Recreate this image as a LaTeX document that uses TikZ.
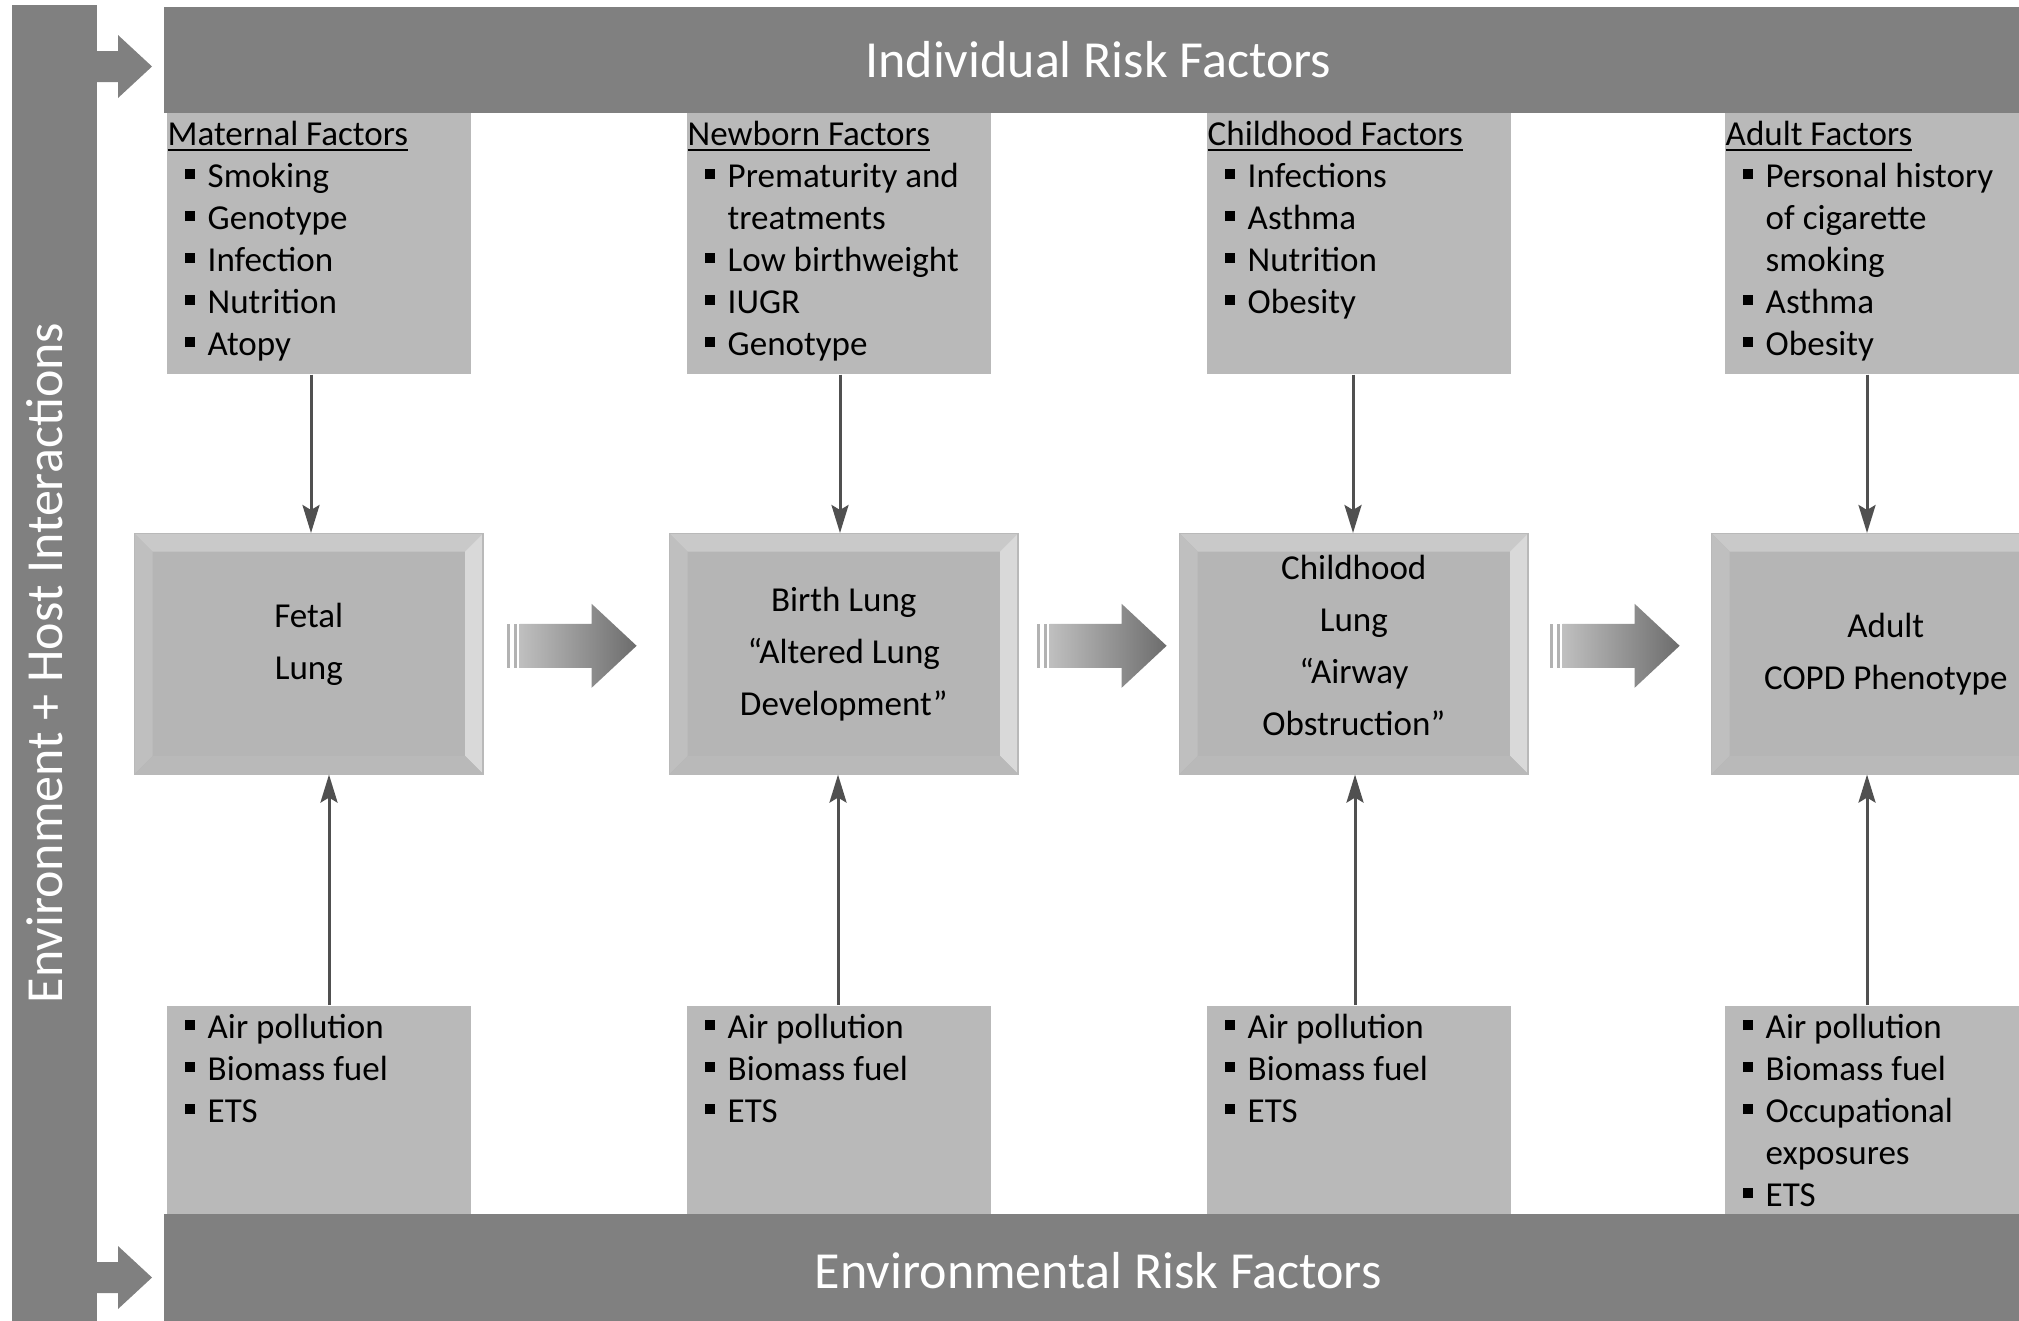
\documentclass[tikz,border=0pt]{standalone}
\usepackage{fontspec}
\setmainfont{Carlito}
\usetikzlibrary{arrows.meta,calc}
\newdimen\pxu \pxu=0.01cm
\newcommand\ftxt{\fontsize{9.96pt}{11.95pt}\selectfont}
\newcommand\flung{\fontsize{9.96pt}{14.8pt}\selectfont}
\newcommand\fbig{\fontsize{14.8pt}{17pt}\selectfont}
\newcommand\bul{\hspace*{17\pxu}\rule[8\pxu]{10\pxu}{10\pxu}\hspace*{13\pxu}}
\newcommand\cont{\hspace*{40\pxu}}
\definecolor{barc}{HTML}{808080}
\definecolor{fboxc}{HTML}{B9B9B9}
\definecolor{lungc}{HTML}{B5B5B5}
\definecolor{arrc}{HTML}{505050}
\newcommand\bigarr[1]{%
  \begin{scope}[shift={#1}]
    \fill[gray!60] (0,-22) rectangle (3,22);
    \fill[gray!60] (7,-22) rectangle (10,22);
    \shade[left color=gray!50, right color=gray!85!black]
      (13,-22) -- (85,-22) -- (85,-42) -- (130,0) -- (85,42) -- (85,22) -- (13,22) -- cycle;
  \end{scope}}
\tikzset{
  banner/.style={fill=barc, text=white, font=\fbig, inner sep=0, anchor=north west},
  fbox/.style={fill=fboxc, inner sep=0, anchor=north west, minimum width=3.04cm},
  ftext/.style={anchor=base west, inner sep=0},
  lung/.style={fill=lungc, draw=gray!55, line width=0.4pt, inner sep=0, anchor=north west,
    minimum width=3.48cm, minimum height=2.40cm, align=center, font=\flung,
    path picture={
      \fill[gray!42] (path picture bounding box.north west) -- (path picture bounding box.north east)
        -- ++(-0.18cm,-0.18cm) -- ($(path picture bounding box.north west)+(0.18cm,-0.18cm)$) -- cycle;
      \fill[gray!50] (path picture bounding box.north west) -- (path picture bounding box.south west)
        -- ++(0.18cm,0.18cm) -- ($(path picture bounding box.north west)+(0.18cm,-0.18cm)$) -- cycle;
      \fill[gray!30] (path picture bounding box.north east) -- (path picture bounding box.south east)
        -- ++(-0.18cm,0.18cm) -- ($(path picture bounding box.north east)+(-0.18cm,-0.18cm)$) -- cycle;
      \fill[gray!55] (path picture bounding box.south west) -- (path picture bounding box.south east)
        -- ++(-0.18cm,0.18cm) -- ($(path picture bounding box.south west)+(0.18cm,0.18cm)$) -- cycle;
      \fill[lungc] ($(path picture bounding box.north west)+(0.18cm,-0.18cm)$) rectangle
        ($(path picture bounding box.south east)+(-0.18cm,0.18cm)$);
    }},
  thinarr/.style={draw=arrc, line width=0.03cm, -{Stealth[length=0.28cm, width=0.17cm, inset=0.05cm]}}
}
\begin{document}
\begin{tikzpicture}[x=0.01cm, y=-0.01cm]
\clip (0,0) rectangle (2019,1320);
\fill[white] (0,0) rectangle (2019,1320);

% left bar and arrows into banners
\fill[barc] (12,5) rectangle (97,1330);
\fill[barc] (97,51) -- (118,51) -- (118,35) -- (152,66.5) -- (118,98) -- (118,82) -- (97,82) -- cycle;
\fill[barc] (97,1262) -- (118,1262) -- (118,1246) -- (152,1277.5) -- (118,1309) -- (118,1293) -- (97,1293) -- cycle;
\node[rotate=90, text=white, font=\fbig, inner sep=0] (envt) at (45,663) {Environment + Host Interactions};

% banners
\node[banner, minimum width=18.68cm, minimum height=1.06cm] (ind) at (163,6) {Individual Risk Factors};
\node[banner, minimum width=18.68cm, minimum height=1.14cm] (envb) at (163,1213) {Environmental Risk Factors};

% individual factor boxes
\node[fbox, minimum height=2.61cm] (m1) at (166,112) {};
\node[fbox, minimum height=2.61cm] (m2) at (686,112) {};
\node[fbox, minimum height=2.61cm] (m3) at (1206,112) {};
\node[fbox, minimum height=2.61cm] (m4) at (1724,112) {};

\node[ftext] (m1t) at ($(m1.north west)+(1,33)$) {\parbox[t]{3cm}{\ftxt\raggedright
  \underline{Maternal Factors}\\ \bul Smoking\\ \bul Genotype\\ \bul Infection\\ \bul Nutrition\\ \bul Atopy}};
\node[ftext] (m2t) at ($(m2.north west)+(1,33)$) {\parbox[t]{3cm}{\ftxt\raggedright
  \underline{Newborn Factors}\\ \bul Prematurity and\\ \cont treatments\\ \bul Low birthweight\\ \bul IUGR\\ \bul Genotype}};
\node[ftext] (m3t) at ($(m3.north west)+(1,33)$) {\parbox[t]{3cm}{\ftxt\raggedright
  \underline{Childhood Factors}\\ \bul Infections\\ \bul Asthma\\ \bul Nutrition\\ \bul Obesity}};
\node[ftext] (m4t) at ($(m4.north west)+(1,33)$) {\parbox[t]{3cm}{\ftxt\raggedright
  \underline{Adult Factors}\\ \bul Personal history\\ \cont of cigarette\\ \cont smoking\\ \bul Asthma\\ \bul Obesity}};

% environmental factor boxes
\node[fbox, minimum height=2.08cm] (e1) at (166,1005) {};
\node[fbox, minimum height=2.08cm] (e2) at (686,1005) {};
\node[fbox, minimum height=2.08cm] (e3) at (1206,1005) {};
\node[fbox, minimum height=2.08cm] (e4) at (1724,1005) {};

\node[ftext] (e1t) at ($(e1.north west)+(1,33)$) {\parbox[t]{3cm}{\ftxt\raggedright
  \bul Air pollution\\ \bul Biomass fuel\\ \bul ETS}};
\node[ftext] (e2t) at ($(e2.north west)+(1,33)$) {\parbox[t]{3cm}{\ftxt\raggedright
  \bul Air pollution\\ \bul Biomass fuel\\ \bul ETS}};
\node[ftext] (e3t) at ($(e3.north west)+(1,33)$) {\parbox[t]{3cm}{\ftxt\raggedright
  \bul Air pollution\\ \bul Biomass fuel\\ \bul ETS}};
\node[ftext] (e4t) at ($(e4.north west)+(1,33)$) {\parbox[t]{3cm}{\ftxt\raggedright
  \bul Air pollution\\ \bul Biomass fuel\\ \bul Occupational\\ \cont exposures\\ \bul ETS}};

% lung stages
\node[lung, text depth=0.24cm] (L1) at (134,533) {Fetal\\Lung};
\node[lung] (L2) at (669,533) {Birth Lung\\``Altered Lung\\Development''};
\node[lung, text depth=0.17cm] (L3) at (1179,533) {Childhood\\Lung\\``Airway\\Obstruction''};
\node[lung] (L4) at (1711,533) {Adult\\COPD Phenotype};

% block arrows between stages
\bigarr{($(L1.east)+(23,-8)$)}
\bigarr{($(L2.east)+(18,-8)$)}
\bigarr{($(L3.east)+(21,-8)$)}

% thin arrows
\coordinate (d1) at (311,0);
\coordinate (d2) at (840,0);
\coordinate (d3) at (1353,0);
\coordinate (d4) at (1867,0);
\coordinate (u1) at (329,0);
\coordinate (u2) at (838,0);
\coordinate (u3) at (1355,0);
\coordinate (u4) at (1867,0);
\draw[thinarr] (m1.south -| d1) -- (L1.north -| d1);
\draw[thinarr] (m2.south -| d2) -- (L2.north -| d2);
\draw[thinarr] (m3.south -| d3) -- (L3.north -| d3);
\draw[thinarr] (m4.south -| d4) -- (L4.north -| d4);
\draw[thinarr] (e1.north -| u1) -- (L1.south -| u1);
\draw[thinarr] (e2.north -| u2) -- (L2.south -| u2);
\draw[thinarr] (e3.north -| u3) -- (L3.south -| u3);
\draw[thinarr] (e4.north -| u4) -- (L4.south -| u4);
\end{tikzpicture}
\end{document}
